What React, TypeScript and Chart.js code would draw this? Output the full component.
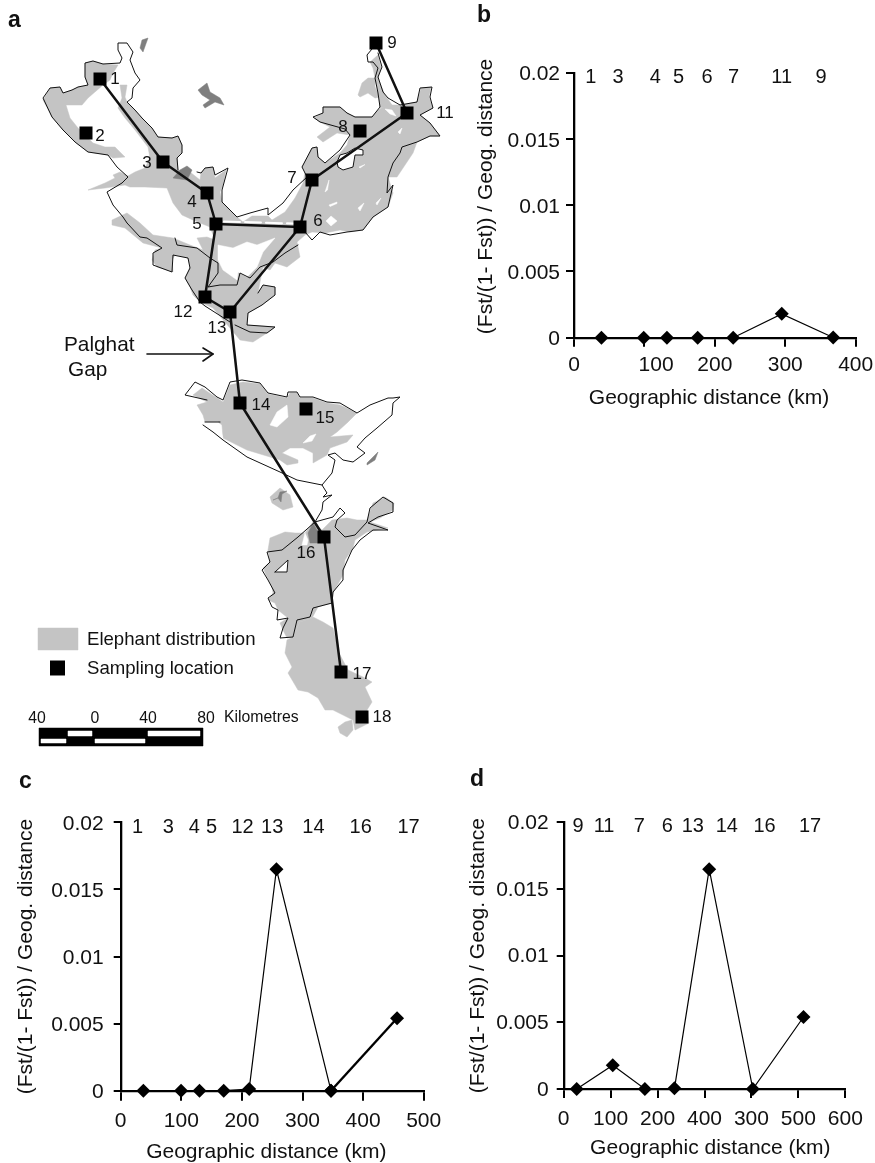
import React, { useEffect, useRef } from "react";
import { Chart, registerables } from "chart.js";

Chart.register(...registerables);

type P = [number, number];
const FONT = '"Liberation Sans", Arial, sans-serif';
const INK = "#111111";
const GRAY = "#c4c4c4";
const DARK = "#7f7f7f";

// ---------- Panel data ----------
const yTickLabels = ["0", "0.005", "0.01", "0.015", "0.02"];
const yTitle = "(Fst/(1- Fst)) / Geog. distance";

const bX = [39, 99, 132, 175.6, 226, 295, 368];
const bY = [0, 0, 0, 0, 0, 0.0018, 0.00002];
const bTickLabels = ["0", "    100", "200", "300", "400"];
const bTopText = ["1", "3", "4", "5", "6", "7", "11", "9"];
const bTopX = [23.7, 62.5, 115.5, 148.6, 189, 226.7, 295, 350.8];

const cX = [37.4, 99.6, 130, 170, 212, 257, 347];
const cY = [0, 0, 0, 0, 0.00012, 0.0165, 0];
const cBoldX = [347, 456];
const cBoldY = [0, 0.0054];
const cTickLabels = ["0", "100", "200", "300", "400", "500"];
const cTopText = ["1", "3", "4", "5", "12", "13", "14", "16", "17"];
const cTopX = [28, 78.7, 121.6, 150, 201, 250, 318, 396, 475];

const dX = [27.7, 104.5, 173, 236, 310, 403, 511];
const dY = [0, 0.00178, 0, 0.00005, 0.01648, 0, 0.0054];
const dTickLabels = ["0", "100", "200", "400", "300", "500", "600"];
const dTopText = ["9", "11", "7", "6", "13", "14", "16", "17"];
const dTopX = [30.6, 86, 161, 221, 275, 347.5, 428, 525];

// ---------- Map data (map units) ----------
const siteIds = ["1", "2", "3", "4", "5", "6", "7", "8", "9", "11", "12", "13", "14", "15", "16", "17", "18"];
const sites: P[] = [[100, 79], [86, 133], [163, 162], [207, 193], [216, 224], [300, 227], [312, 180], [360, 131], [376, 43], [407, 113], [205, 297], [230, 312], [240, 403], [306, 409], [324, 537], [341, 672], [362, 717]];
const siteLabelAt: P[] = [[115, 79], [100, 136], [147, 163], [192, 202], [197, 224], [318, 221], [292, 178], [343, 127], [392, 43], [445, 113], [183, 312], [217, 328], [261, 405], [325, 418], [306, 553], [362, 674], [382, 717]];
const routeNorth: P[] = [[100, 79], [163, 162], [207, 193], [216, 224], [300, 227], [312, 180], [407, 113], [376, 43]];
const routeCentre: P[] = [[216, 224], [205, 297], [230, 312], [300, 227]];
const routeSouth: P[] = [[230, 312], [240, 403], [324, 537], [341, 672]];
const routeSliver: P[] = [[224, 221.5], [293, 223.5]];

const grayWest: P[] = [[43, 100], [50, 88], [60, 87], [63, 93], [72, 90], [78, 87], [88, 85], [85, 77], [85, 63], [93, 61], [103, 64], [118, 65], [112, 75], [110, 80], [103, 85], [88, 98], [82, 105], [66, 105], [70, 118], [78, 128], [93, 143], [105, 147], [115, 147], [125, 157], [113, 158], [108, 155], [88, 152], [75, 142], [63, 130], [52, 117]];
const grayCentral: P[] = [[120, 85], [127, 85], [125, 97], [127, 102], [135, 110], [142, 118], [152, 128], [158, 137], [172, 138], [178, 136], [182, 145], [182, 153], [177, 158], [178, 170], [190, 172], [200, 180], [201, 173], [205, 168], [213, 167], [215, 178], [226, 170], [223, 185], [220, 192], [222, 202], [237, 217], [243, 222], [252, 216], [268, 216], [272, 220], [285, 212], [295, 198], [303, 183], [305, 172], [302, 167], [312, 148], [317, 147], [318, 157], [325, 163], [340, 153], [347, 145], [350, 135], [337, 133], [323, 142], [317, 137], [330, 127], [320, 122], [314, 118], [323, 113], [323, 107], [340, 107], [347, 113], [355, 117], [372, 117], [378, 110], [387, 105], [400, 105], [417, 102], [421, 88], [431, 87], [429, 97], [433, 108], [420, 115], [430, 123], [440, 136], [430, 136], [417, 142], [413, 153], [403, 168], [397, 177], [388, 177], [393, 193], [388, 207], [373, 217], [363, 230], [350, 232], [340, 230], [325, 233], [312, 232], [305, 235], [297, 242], [300, 257], [287, 267], [275, 263], [270, 270], [263, 267], [260, 282], [258, 293], [263, 285], [275, 287], [275, 295], [262, 305], [248, 313], [247, 325], [275, 327], [267, 333], [253, 342], [240, 340], [230, 328], [213, 308], [200, 302], [193, 295], [190, 287], [185, 278], [190, 267], [188, 258], [175, 255], [172, 260], [173, 272], [157, 267], [152, 260], [155, 250], [162, 248], [143, 243], [125, 228], [112, 225], [112, 220], [127, 213], [140, 223], [153, 235], [173, 238], [190, 245], [203, 250], [197, 238], [207, 237], [215, 240], [210, 227], [193, 220], [182, 215], [173, 203], [167, 188], [145, 187], [130, 187], [125, 185], [105, 188], [88, 190], [105, 183], [115, 178], [113, 175], [120, 172], [128, 176], [135, 172], [145, 168], [150, 158], [148, 147], [135, 130], [125, 118], [118, 108], [122, 98]];
const grayUpper: P[] = [[358, 95], [362, 83], [368, 78], [375, 78], [375, 87], [380, 97], [375, 98], [368, 93], [360, 97]];
const grayInlet: P[] = [[370, 62], [378, 55], [381, 68], [378, 78], [385, 95], [392, 105], [380, 108], [378, 92], [375, 78], [373, 68]];
const grayMiddle: P[] = [[193, 395], [202, 388], [217, 398], [223, 402], [230, 385], [243, 382], [260, 384], [268, 394], [287, 398], [290, 393], [297, 393], [300, 398], [313, 398], [327, 403], [340, 405], [357, 413], [347, 423], [337, 432], [330, 437], [353, 435], [347, 442], [330, 448], [327, 455], [313, 463], [313, 453], [303, 448], [290, 448], [282, 453], [298, 460], [298, 463], [287, 465], [280, 460], [247, 450], [223, 438], [222, 425], [218, 422], [205, 422], [203, 415], [197, 405], [207, 402]];
const grayBlob: P[] = [[270, 497], [280, 488], [290, 495], [293, 507], [283, 510], [272, 503]];
const graySouth: P[] = [[270, 538], [285, 532], [295, 533], [305, 533], [313, 522], [322, 530], [332, 520], [347, 518], [357, 520], [367, 520], [373, 503], [385, 497], [394, 503], [393, 510], [380, 518], [370, 522], [388, 528], [367, 532], [355, 540], [353, 548], [345, 560], [343, 575], [333, 593], [332, 603], [318, 607], [312, 618], [300, 622], [293, 637], [287, 638], [283, 630], [280, 623], [288, 618], [278, 610], [275, 603], [268, 600], [273, 593], [272, 587], [267, 577], [263, 568], [270, 562], [268, 550]];
const grayTip: P[] = [[313, 617], [323, 622], [333, 628], [339, 653], [348, 670], [363, 677], [372, 682], [365, 687], [372, 702], [367, 710], [369, 723], [355, 730], [353, 720], [343, 715], [333, 710], [325, 710], [318, 698], [308, 692], [298, 690], [288, 673], [292, 667], [285, 653], [287, 640], [293, 637], [300, 622], [312, 618]];
const grayIslet: P[] = [[338, 727], [345, 722], [352, 720], [353, 730], [347, 737], [340, 733]];

const holes: P[][] = [
  [[218, 245], [233, 248], [247, 242], [257, 245], [275, 238], [263, 252], [257, 267], [247, 277], [238, 272], [237, 280], [223, 270], [218, 260]],
  [[337, 162], [340, 155], [347, 153], [355, 148], [363, 150], [363, 155], [355, 155], [353, 167], [343, 170], [338, 167]],
  [[326, 221], [331, 216], [337, 221], [331, 226]],
  [[358, 208], [364, 203], [360, 211]],
  [[329, 205], [337, 202], [337, 203.5], [330, 206.5]],
  [[325, 192], [329, 180], [327.5, 190]],
  [[398, 132], [402, 128], [400, 134]],
  [[385, 109], [392, 110], [396, 116], [390, 114]],
  [[359, 167], [365, 164.5], [360, 168]],
  [[376, 203], [381, 198], [377, 205]],
  [[239, 300], [245, 294], [240, 301]],
  [[270, 425], [277, 412], [287, 405], [288, 417], [277, 427]],
  [[303, 443], [310, 436], [316, 434], [312, 441]],
  [[275, 572], [288, 560], [287, 572]],
  [[302, 545], [305, 533], [308, 540], [307, 545]],
  [[205, 422], [218, 422], [223, 438], [213, 432], [205, 425]],
];

const darks: P[][] = [
  [[140, 48], [142, 40], [148, 38], [143, 52]],
  [[198, 90], [207, 83], [210, 92], [220, 98], [224, 105], [215, 102], [205, 108], [203, 105], [210, 100], [202, 95]],
  [[173, 178], [180, 170], [187, 166], [192, 170], [187, 180]],
  [[273, 500], [278, 498], [280, 492], [287, 491], [282, 494], [281, 502], [278, 498]],
  [[367, 463], [372, 458], [378, 452], [375, 460], [367, 465]],
  [[308, 533], [313, 523], [318, 532], [318, 543], [310, 543]],
];

const outlines: P[][] = [
  [[178, 170], [177, 158], [182, 153], [182, 145], [178, 136], [172, 138], [158, 137], [152, 128], [142, 118], [135, 110], [127, 102], [132, 98], [133, 88], [140, 80], [135, 73], [130, 60], [133, 52], [127, 43], [118, 43], [118, 50], [122, 58], [120, 63], [103, 64], [93, 61], [85, 63], [85, 77], [88, 85], [78, 87], [72, 90], [63, 93], [60, 87], [50, 88], [43, 98], [52, 117], [63, 130], [75, 142], [88, 152], [108, 155], [117, 167], [128, 177], [122, 183], [107, 192], [113, 205], [123, 217], [127, 223], [140, 237], [147, 238], [162, 248], [153, 253], [153, 265], [172, 272], [173, 255], [188, 258], [190, 268], [185, 278], [192, 290], [200, 302], [205, 306], [230, 322]],
  [[175, 238], [177, 245], [197, 248], [210, 258], [218, 263], [218, 273], [208, 287], [220, 285], [237, 285], [240, 273], [250, 278], [260, 267], [273, 262], [285, 253], [298, 245]],
  [[258, 293], [263, 285], [275, 287], [275, 295], [262, 305], [248, 313], [247, 325], [275, 327], [267, 333], [250, 332], [235, 325]],
  [[197, 172], [201, 173], [205, 168], [213, 167], [215, 175], [228, 168], [222, 190], [222, 202], [237, 217], [250, 213], [268, 208], [268, 215], [283, 203], [293, 190], [307, 177], [302, 167], [312, 148], [317, 147], [318, 157], [325, 163], [340, 150], [350, 135], [345, 129], [320, 122], [313, 117], [323, 113], [323, 107], [340, 107], [347, 113], [355, 117], [372, 117], [380, 107], [378, 93], [375, 78], [378, 68], [373, 62], [368, 62], [367, 55], [372, 49]],
  [[378, 53], [382, 67], [378, 77], [383, 92], [388, 98], [400, 105], [417, 102], [420, 88], [432, 87], [430, 97], [433, 108], [420, 115], [430, 123], [440, 136], [430, 136], [417, 142], [402, 147], [400, 153], [393, 163], [388, 177], [387, 193], [393, 185], [388, 207], [373, 217], [363, 230], [347, 232], [330, 235], [320, 232], [312, 240], [305, 232], [300, 232]],
  [[337, 162], [340, 155], [347, 153], [355, 148], [363, 150], [363, 155], [355, 155], [353, 167], [343, 170], [338, 167], [337, 162]],
  [[207, 400], [185, 395], [195, 382], [205, 387], [217, 397], [223, 400], [230, 382], [242, 380], [260, 383], [268, 393], [287, 397], [288, 392], [297, 392], [300, 397], [313, 397], [327, 402], [340, 403], [357, 413], [370, 405], [388, 398], [393, 398], [400, 397], [393, 403], [392, 415], [377, 428], [365, 438], [357, 447], [365, 453], [353, 462], [343, 460], [335, 453], [328, 455], [335, 460], [332, 473], [322, 485], [327, 493], [323, 497], [332, 495], [323, 502], [322, 510], [315, 522]],
  [[203, 425], [213, 432], [223, 440], [247, 457], [280, 472], [297, 480], [322, 485]],
  [[205, 422], [220, 422]],
  [[315, 522], [322, 520], [333, 517], [340, 508], [345, 513], [337, 520], [335, 527], [345, 537], [355, 535], [367, 522], [370, 508], [383, 497], [393, 503], [393, 512], [378, 517], [368, 523], [388, 530], [373, 530], [360, 540], [352, 550], [343, 570], [343, 580], [333, 592], [332, 603], [313, 608], [310, 617], [297, 620], [293, 637], [280, 638], [283, 628], [288, 618], [277, 620], [278, 610], [272, 607], [268, 598], [275, 593], [268, 580], [262, 570], [270, 562], [267, 552], [282, 550], [298, 537], [315, 522]],
  [[275, 572], [288, 560], [287, 572], [275, 572]],
];

const arrowShaft: P[] = [[147, 354], [213, 354]];
const arrowHead: P[] = [[203, 348], [213, 354], [203, 361]];
const legendSwatch: P[] = [[38, 628], [78, 628], [78, 650], [38, 650]];
const legendMarker: P[] = [[57.5, 668]];
const scaleFrame: P[] = [[39, 728], [203, 728], [203, 746], [39, 746]];
const scaleBars: P[][] = [
  [[68, 731], [92, 731], [92, 736], [68, 736]],
  [[148, 731], [200, 731], [200, 736], [148, 736]],
  [[41, 739], [66, 739], [66, 743], [41, 743]],
  [[95, 739], [145, 739], [145, 743], [95, 743]],
];
const mapTexts: [string, number, number, number, string][] = [
  ["a", 8, 21, 23, "bold"],
  ["b", 477, 16, 23, "bold"],
  ["c", 19, 782, 23, "bold"],
  ["d", 470, 780, 23, "bold"],
  ["Palghat", 64, 345, 20.8, "normal"],
  ["Gap", 68, 370, 20.8, "normal"],
  ["Elephant distribution", 87, 640, 18.6, "normal"],
  ["Sampling location", 87, 669, 18.6, "normal"],
  ["Kilometres", 224, 718, 15.8, "normal"],
];
const scaleText: [string, number][] = [["40", 37], ["0", 95], ["40", 148], ["80", 206]];

const pts = (a: P[]) => a.map(([x, y]) => ({ x, y }));
const zip = (xs: number[], ys: number[]) => xs.map((x, i) => ({ x, y: ys[i] }));

// A dash list keeps Chart.js off its fast line path, which assumes x only ever grows.
const SOLID = [100000, 1];

function polygon(a: P[], color: string) {
  return { data: pts([...a, a[0]]), showLine: true, fill: "shape", backgroundColor: color, borderColor: color, borderWidth: 0.5, borderDash: SOLID, pointRadius: 0, tension: 0, clip: false };
}
function stroke(a: P[], width: number, color = INK, dash: number[] = SOLID) {
  return { data: pts(a), showLine: true, fill: false, borderColor: color, borderWidth: width, borderDash: dash, pointRadius: 0, tension: 0, clip: false, borderCapStyle: "round", borderJoinStyle: "round" };
}

function mapConfig(): any {
  const layers: any[] = [
    ...[grayWest, grayCentral, grayUpper, grayInlet, grayMiddle, grayBlob, graySouth, grayTip, grayIslet].map((p) => polygon(p, GRAY)),
    ...holes.map((p) => polygon(p, "#ffffff")),
    ...darks.map((p) => polygon(p, DARK)),
    ...outlines.map((p) => stroke(p, 1)),
    stroke(routeNorth, 2.5),
    stroke(routeCentre, 2.5),
    stroke(routeSouth, 2.5),
    stroke(routeSliver, 2, "#ffffff", [16, 5]),
    { data: pts(sites), showLine: false, pointStyle: "rect", pointRadius: 9.2, backgroundColor: "#000", borderWidth: 0, clip: false },
    stroke(arrowShaft, 1.6),
    stroke(arrowHead, 1.6),
    polygon(legendSwatch, GRAY),
    { data: pts(legendMarker), showLine: false, pointStyle: "rect", pointRadius: 10.6, backgroundColor: "#000", borderWidth: 0, clip: false },
    polygon(scaleFrame, "#000000"),
    ...scaleBars.map((p) => polygon(p, "#ffffff")),
  ].reverse();
  const textPlugin = {
    id: "mapText",
    afterDatasetsDraw(chart: any) {
      const { ctx, scales } = chart;
      ctx.save();
      ctx.fillStyle = INK;
      ctx.textBaseline = "middle";
      const X = (v: number) => scales.x.getPixelForValue(v);
      const Y = (v: number) => scales.y.getPixelForValue(v);
      ctx.textAlign = "center";
      ctx.font = `17px ${FONT}`;
      siteIds.forEach((t, i) => ctx.fillText(t, X(siteLabelAt[i][0]), Y(siteLabelAt[i][1])));
      ctx.font = `15.8px ${FONT}`;
      scaleText.forEach(([t, x]) => ctx.fillText(t, X(x), Y(719)));
      ctx.textAlign = "left";
      mapTexts.forEach(([t, x, y, s, w]) => {
        ctx.font = `${w} ${s}px ${FONT}`;
        ctx.fillText(t, X(x), Y(y));
      });
      ctx.restore();
    },
  };
  return {
    type: "scatter",
    data: { datasets: layers },
    plugins: [textPlugin],
    options: {
      animation: false,
      responsive: false,
      layout: { padding: 0, autoPadding: false },
      plugins: { legend: { display: false }, tooltip: { enabled: false } },
      scales: {
        x: { type: "linear", display: false, min: 0, max: 875 },
        y: { type: "linear", display: false, min: 0, max: 1163, reverse: true },
      },
    },
  };
}

type PanelCfg = {
  box: { left: number; top: number; width: number; height: number };
  plot: { left: number; top: number; right: number; bottom: number };
  xMax: number; xStep: number; tickLabels: string[];
  series: { x: number; y: number }[]; bold?: { x: number; y: number }[];
  topText: string[]; topX: number[];
  xTitle: string; yTitle: string;
  xTitlePad: number; yTitlePad: number; xTick: number; xPad: number; yTick: number; yPad: number; yOffset: number;
};

function panelConfig(p: PanelCfg): any {
  const marker = { pointStyle: "rectRot", pointRadius: 7, pointBackgroundColor: "#000", pointBorderColor: "#000", pointBorderWidth: 0 };
  const datasets: any[] = [
    { data: p.series, showLine: true, borderColor: "#000", borderWidth: 1.2, tension: 0, clip: false, ...marker },
  ];
  if (p.bold) datasets.unshift({ data: p.bold, showLine: true, borderColor: "#000", borderWidth: 2.4, tension: 0, clip: false, ...marker });
  const topPlugin = {
    id: "topLabels",
    afterDatasetsDraw(chart: any) {
      const { ctx, scales } = chart;
      ctx.save();
      ctx.fillStyle = INK;
      ctx.font = `20px ${FONT}`;
      ctx.textAlign = "center";
      ctx.textBaseline = "middle";
      p.topText.forEach((t, i) => ctx.fillText(t, scales.x.getPixelForValue(p.topX[i]), scales.y.getPixelForValue(0.01965)));
      ctx.restore();
    },
  };
  const tickFont = { family: FONT, size: 21, lineHeight: 1 };
  return {
    type: "scatter",
    data: { datasets },
    plugins: [topPlugin],
    options: {
      animation: false,
      responsive: false,
      layout: {
        autoPadding: false,
        padding: { left: 0, bottom: 0, top: p.plot.top - p.box.top, right: p.box.left + p.box.width - p.plot.right },
      },
      plugins: { legend: { display: false }, tooltip: { enabled: false } },
      scales: {
        x: {
          type: "linear", min: 0, max: p.xMax,
          afterFit(s: any) { s.height = p.box.top + p.box.height - p.plot.bottom; s.paddingLeft = 0; s.paddingRight = 0; },
          border: { display: true, color: "#000", width: 2.3 },
          grid: { drawOnChartArea: false, drawTicks: true, color: "#000", lineWidth: 2, tickLength: p.xTick },
          ticks: { stepSize: p.xStep, color: INK, font: tickFont, padding: p.xPad, maxRotation: 0, autoSkip: false, callback: (_v: any, i: number) => p.tickLabels[i] },
          title: { display: true, text: p.xTitle, color: INK, font: tickFont, padding: { top: 0, bottom: p.xTitlePad } },
        },
        y: {
          type: "linear", min: 0, max: 0.02,
          afterFit(s: any) { s.width = p.plot.left - p.box.left; s.paddingTop = 0; s.paddingBottom = 0; },
          border: { display: true, color: "#000", width: 2.3 },
          grid: { drawOnChartArea: false, drawTicks: true, color: "#000", lineWidth: 2, tickLength: p.yTick },
          ticks: { stepSize: 0.005, color: INK, font: tickFont, padding: p.yPad, labelOffset: p.yOffset, autoSkip: false, callback: (_v: any, i: number) => yTickLabels[i] },
          title: { display: true, text: p.yTitle, color: INK, font: tickFont, padding: { top: p.yTitlePad, bottom: 0 } },
        },
      },
    },
  };
}

const panels: PanelCfg[] = [
  {
    box: { left: 470, top: 50, width: 405, height: 370 },
    plot: { left: 574, top: 72.7, right: 855.7, bottom: 337.7 },
    xMax: 400, xStep: 100, tickLabels: bTickLabels, series: zip(bX, bY), topText: bTopText, topX: bTopX,
    xTitle: "Geographic distance (km)  ", yTitle: "   " + yTitle,
    xTitlePad: 11.5, yTitlePad: 6.2, xTick: 9, xPad: 8.5, yTick: 8, yPad: 6, yOffset: 2,
  },
  {
    box: { left: 0, top: 790, width: 450, height: 373 },
    plot: { left: 120.7, top: 822.3, right: 423.7, bottom: 1090.7 },
    xMax: 500, xStep: 100, tickLabels: cTickLabels, series: zip(cX, cY), bold: zip(cBoldX, cBoldY), topText: cTopText, topX: cTopX,
    xTitle: "Geographic distance (km)  ", yTitle,
    xTitlePad: 0, yTitlePad: 16.2, xTick: 10, xPad: 9.8, yTick: 7, yPad: 10, yOffset: 2,
  },
  {
    box: { left: 450, top: 790, width: 425, height: 373 },
    plot: { left: 563.7, top: 822.3, right: 845.3, bottom: 1089 },
    xMax: 600, xStep: 100, tickLabels: dTickLabels, series: zip(dX, dY), topText: dTopText, topX: dTopX,
    xTitle: "  Geographic distance (km)", yTitle,
    xTitlePad: 4.2, yTitlePad: 17.5, xTick: 9, xPad: 10.8, yTick: 7, yPad: 8, yOffset: 1,
  },
];

export default function App() {
  const mapRef = useRef<HTMLCanvasElement | null>(null);
  const panelRefs = useRef<(HTMLCanvasElement | null)[]>([]);
  useEffect(() => {
    const charts: Chart[] = [];
    if (mapRef.current) charts.push(new Chart(mapRef.current, mapConfig()));
    panels.forEach((p, i) => {
      const el = panelRefs.current[i];
      if (el) charts.push(new Chart(el, panelConfig(p)));
    });
    return () => charts.forEach((c) => c.destroy());
  }, []);
  return (
    <div style={{ position: "absolute", left: 0, top: 0, width: 875, height: 1163, overflow: "hidden", background: "#fff" }}>
      <canvas ref={mapRef} width={875} height={1163} style={{ position: "absolute", left: 0, top: 0, width: 875, height: 1163 }} />
      {panels.map((p, i) => (
        <canvas
          key={i}
          ref={(el) => { panelRefs.current[i] = el; }}
          width={p.box.width}
          height={p.box.height}
          style={{ position: "absolute", left: p.box.left, top: p.box.top, width: p.box.width, height: p.box.height }}
        />
      ))}
    </div>
  );
}
